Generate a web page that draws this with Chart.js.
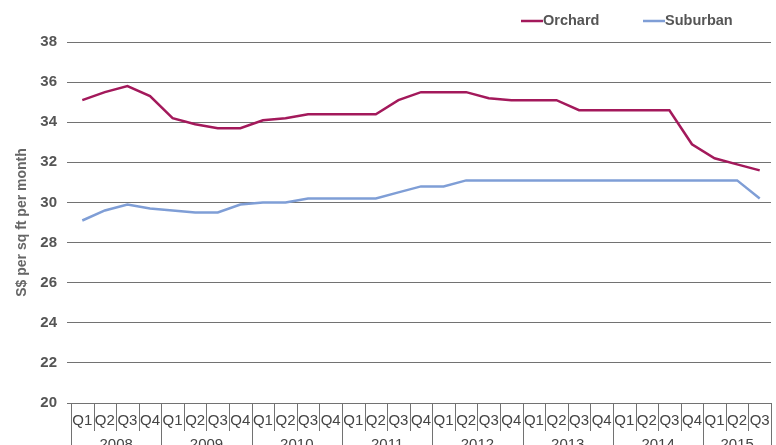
<!DOCTYPE html>
<html>
<head>
<meta charset="utf-8">
<script src="https://cdn.jsdelivr.net/npm/chart.js@4"></script>
<style>
  html, body { margin: 0; padding: 0; background: #fff; }
  #rents { display: block; }
</style>
</head>
<body>
<canvas id="rents" width="776" height="445"></canvas>
<script>
const years = ['2008', '2009', '2010', '2011', '2012', '2013', '2014', '2015'];
const quartersPerYear = [4, 4, 4, 4, 4, 4, 4, 3];
const orchard = [35.1, 35.5, 35.8, 35.3, 34.2, 33.9, 33.7, 33.7, 34.1, 34.2, 34.4, 34.4,
    34.4, 34.4, 35.1, 35.5, 35.5, 35.5, 35.2, 35.1, 35.1, 35.1, 34.6, 34.6,
    34.6, 34.6, 34.6, 32.9, 32.2, 31.9, 31.6];
const suburban = [29.1, 29.6, 29.9, 29.7, 29.6, 29.5, 29.5, 29.9, 30.0, 30.0, 30.2, 30.2,
    30.2, 30.2, 30.5, 30.8, 30.8, 31.1, 31.1, 31.1, 31.1, 31.1, 31.1, 31.1,
    31.1, 31.1, 31.1, 31.1, 31.1, 31.1, 30.2];

const quarterLabels = [];
quartersPerYear.forEach(n => {
    for (let q = 1; q <= n; q++) quarterLabels.push('Q' + q);
});

const gridGrey = '#727272';
const textGrey = '#555555';
const fontFamily = '"Liberation Sans", Arial, Helvetica, sans-serif';

// quarter boxes + year row under the x axis
const yearRows = {
    id: 'yearRows',
    afterDraw(chart) {
        const ctx = chart.ctx;
        const x = chart.scales.x;
        const top = chart.chartArea.bottom;
        const step = x.getPixelForValue(1) - x.getPixelForValue(0);
        const n = quarterLabels.length;
        ctx.save();
        ctx.strokeStyle = gridGrey;
        ctx.lineWidth = 1;
        const yearStarts = [];
        let acc = 0;
        quartersPerYear.forEach(q => { yearStarts.push(acc); acc += q; });
        for (let i = 0; i <= n; i++) {
            const px = Math.round(x.getPixelForValue(i) - step / 2) + 0.5;
            const full = yearStarts.includes(i) || i === n;
            ctx.beginPath();
            ctx.moveTo(px, top);
            ctx.lineTo(px, full ? chart.height : top + 28);
            ctx.stroke();
        }
        ctx.fillStyle = '#444';
        ctx.font = '15px ' + fontFamily;
        ctx.textAlign = 'center';
        ctx.textBaseline = 'middle';
        years.forEach((yr, i) => {
            const a = x.getPixelForValue(yearStarts[i]) - step / 2;
            const b = x.getPixelForValue(yearStarts[i] + quartersPerYear[i] - 1) + step / 2;
            ctx.fillText(yr, (a + b) / 2, top + 42);
        });

        // legend
        ctx.font = 'bold 14.5px ' + fontFamily;
        ctx.textAlign = 'left';
        const legendX = [521, 643];
        chart.data.datasets.forEach((ds, i) => {
            ctx.strokeStyle = ds.borderColor;
            ctx.lineWidth = 2.5;
            ctx.beginPath();
            ctx.moveTo(legendX[i], 21);
            ctx.lineTo(legendX[i] + 22, 21);
            ctx.stroke();
            ctx.fillStyle = textGrey;
            ctx.fillText(ds.label, legendX[i] + 22, 21);
        });
        ctx.restore();
    }
};

new Chart(document.getElementById('rents'), {
    type: 'line',
    data: {
        labels: quarterLabels,
        datasets: [{
            label: 'Orchard',
            data: orchard,
            borderColor: '#a3195b',
            borderWidth: 2.5,
            pointRadius: 0,
            tension: 0
        }, {
            label: 'Suburban',
            data: suburban,
            borderColor: '#7f9ed6',
            borderWidth: 2.5,
            pointRadius: 0,
            tension: 0
        }]
    },
    options: {
        responsive: false,
        animation: false,
        layout: { padding: { top: 42, right: 5, left: 0, bottom: 0 } },
        plugins: {
            legend: { display: false },
            tooltip: { enabled: false }
        },
        scales: {
            x: {
                offset: true,
                grid: { display: false },
                border: { display: true, color: gridGrey, width: 1 },
                ticks: {
                    color: '#444',
                    font: { family: fontFamily, size: 15 },
                    padding: 1,
                    maxRotation: 0,
                    autoSkip: false
                },
                afterFit(scale) { scale.height = 42; }
            },
            y: {
                min: 20,
                max: 38,
                ticks: {
                    stepSize: 2,
                    color: textGrey,
                    font: { family: fontFamily, size: 15, weight: 'bold' },
                    padding: 10
                },
                grid: { color: gridGrey, lineWidth: 1, tickLength: 4 },
                border: { display: false },
                title: {
                    display: true,
                    text: 'S$ per sq ft per month',
                    color: '#666',
                    font: { family: fontFamily, size: 14, weight: 'bold' },
                    padding: { top: 14, bottom: 0 }
                },
                afterFit(scale) { scale.width = 71; }
            }
        }
    },
    plugins: [yearRows]
});
</script>
</body>
</html>
